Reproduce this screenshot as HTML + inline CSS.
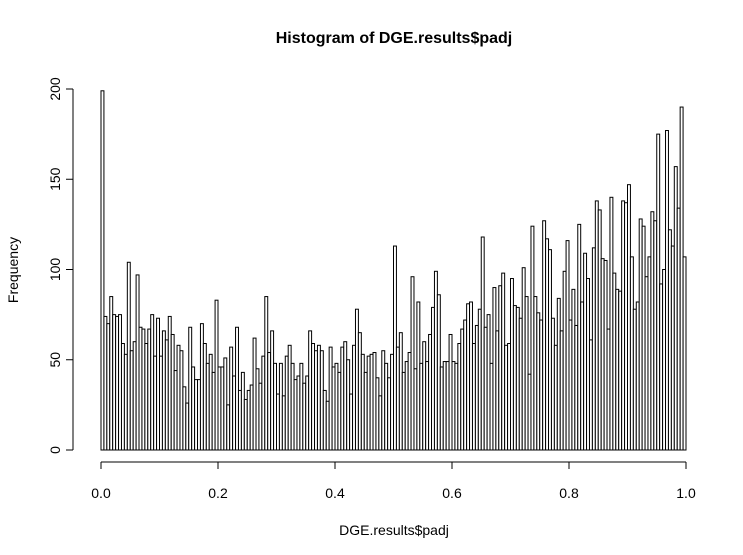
<!DOCTYPE html>
<html><head><meta charset="utf-8"><style>
body{margin:0;background:#fff}
svg{display:block;font-family:"Liberation Sans",sans-serif}
</style></head><body>
<svg id="chart" width="743" height="555" viewBox="0 0 743 555" xmlns="http://www.w3.org/2000/svg">
<rect width="743" height="555" fill="#fff"/>
<text x="394" y="43" text-anchor="middle" font-size="16" font-weight="bold">Histogram of DGE.results$padj</text>
<text x="394" y="535" text-anchor="middle" font-size="14">DGE.results$padj</text>
<text transform="translate(18,270) rotate(-90)" text-anchor="middle" font-size="14">Frequency</text>
<g id="bars"></g>
<g id="xaxis"></g>
<g id="yaxis"></g>
</svg>
<script>
const counts = [199,74,70,85,75,74,75,59,53,104,55,60,97,68,67,59,67,75,52,73,52,66,61,74,64,44,58,55,35,26,68,46,39,
39,70,59,48,53,43,83,46,46,51,25,57,41,68,33,43,28,33,36,62,45,37,52,85,54,66,48,31,48,30,52,58,48,
39,41,48,37,41,66,59,55,58,55,33,27,57,46,48,43,57,60,50,31,58,78,65,53,43,52,53,54,40,30,55,48,40,53,
113,57,65,43,49,54,96,45,82,48,60,49,64,79,99,86,46,49,49,64,49,48,59,67,72,81,82,59,69,78,118,68,
75,48,90,66,91,98,58,59,95,80,79,73,101,85,42,124,85,76,72,127,117,111,73,58,84,66,99,116,72,89,69,125,82,
109,95,61,112,138,133,106,105,67,140,98,89,88,138,137,147,107,78,82,128,124,96,107,132,127,175,92,100,177,122,113,157,134,190,107];
const binStart = 0, binWidth = 0.005;
const xTicks = [0,0.2,0.4,0.6,0.8,1.0];
const xTickLabels = ["0.0","0.2","0.4","0.6","0.8","1.0"];
const yTicks = [0,50,100,150,200];

const X0=101, XW=585, Y0=450, YS=1.805;
const sx = v => X0 + v*XW;
const sy = c => Y0 - c*YS;
const NS="http://www.w3.org/2000/svg";
const bars=document.getElementById('bars');
counts.forEach((c,i)=>{
  const r=document.createElementNS(NS,'rect');
  const a=sx(binStart+i*binWidth), b=sx(binStart+(i+1)*binWidth);
  r.setAttribute('x',a); r.setAttribute('y',sy(c));
  r.setAttribute('width',b-a); r.setAttribute('height',sy(0)-sy(c));
  r.setAttribute('fill','#fff'); r.setAttribute('stroke','#000'); r.setAttribute('stroke-width','1');
  
  
  bars.appendChild(r);
});
const xa=document.getElementById('xaxis');
let h='<line x1="'+sx(xTicks[0])+'" y1="462" x2="'+sx(xTicks[xTicks.length-1])+'" y2="462" stroke="#000"/>';
xTicks.forEach((t,i)=>{
  h+='<line x1="'+sx(t)+'" y1="462" x2="'+sx(t)+'" y2="469" stroke="#000"/>';
  h+='<text x="'+sx(t)+'" y="498" text-anchor="middle" font-size="14">'+xTickLabels[i]+'</text>';
});
xa.innerHTML=h;
const ya=document.getElementById('yaxis');
h='<line x1="73" y1="'+sy(yTicks[0])+'" x2="73" y2="'+sy(yTicks[yTicks.length-1])+'" stroke="#000"/>';
yTicks.forEach(t=>{
  h+='<line x1="66" y1="'+sy(t)+'" x2="73" y2="'+sy(t)+'" stroke="#000"/>';
  h+='<text transform="translate(60,'+sy(t)+') rotate(-90)" text-anchor="middle" font-size="14">'+t+'</text>';
});
ya.innerHTML=h;
</script>
</body></html>
